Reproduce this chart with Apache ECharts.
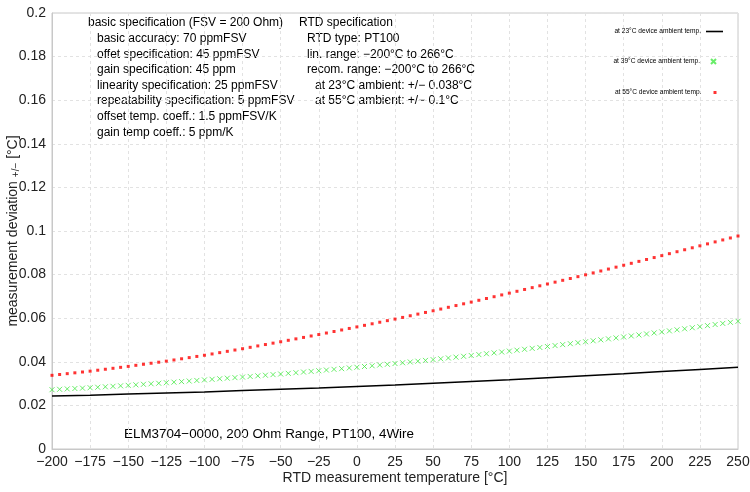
<!DOCTYPE html>
<html>
<head>
<meta charset="utf-8">
<script src="https://cdn.jsdelivr.net/npm/echarts@6/dist/echarts.min.js"></script>
<style>html,body{margin:0;padding:0;background:#fff}#c{width:750px;height:492px}</style>
</head>
<body>
<div id="c"></div>
<script>
const temps = [-200,-195,-190,-185,-180,-175,-170,-165,-160,-155,-150,-145,-140,-135,-130,-125,-120,-115,-110,-105,-100,-95,-90,-85,-80,-75,-70,-65,-60,-55,-50,-45,-40,-35,-30,-25,-20,-15,-10,-5,0,5,10,15,20,25,30,35,40,45,50,55,60,65,70,75,80,85,90,95,100,105,110,115,120,125,130,135,140,145,150,155,160,165,170,175,180,185,190,195,200,205,210,215,220,225,230,235,240,245,250];
const temps25 = [-200,-175,-150,-125,-100,-75,-50,-25,0,25,50,75,100,125,150,175,200,225,250];
const dev23 = [0.0243,0.0247,0.0252,0.0257,0.0262,0.0268,0.0274,0.0280,0.0287,0.0294,0.0302,0.0310,0.0318,0.0327,0.0336,0.0345,0.0355,0.0365,0.0375];
const dev39 = [0.0272,0.02738,0.02756,0.02774,0.02792,0.0281,
0.02832,0.02854,0.02876,0.02898,0.0292,
0.02944,0.02968,0.02992,0.03016,0.0304,
0.03066,0.03092,0.03118,0.03144,0.0317,
0.03196,0.03222,0.03248,0.03274,0.033,
0.03328,0.03356,0.03384,0.03412,0.0344,
0.0347,0.035,0.0353,0.0356,0.0359,
0.03622,0.03654,0.03686,0.03718,0.0375,
0.03784,0.03818,0.03852,0.03886,0.0392,
0.03956,0.03992,0.04028,0.04064,0.041,
0.04138,0.04176,0.04214,0.04252,0.0429,
0.0433,0.0437,0.0441,0.0445,0.0449,
0.04532,0.04574,0.04616,0.04658,0.047,
0.04744,0.04788,0.04832,0.04876,0.0492,
0.04964,0.05008,0.05052,0.05096,0.0514,
0.05186,0.05232,0.05278,0.05324,0.0537,
0.05418,0.05466,0.05514,0.05562,0.0561,
0.0566,0.0571,0.0576,0.0581,0.0586];
const dev55 = [0.0338,0.03418,0.03456,0.03494,0.03532,0.0357,
0.03614,0.03658,0.03702,0.03746,0.0379,
0.03838,0.03886,0.03934,0.03982,0.0403,
0.04084,0.04138,0.04192,0.04246,0.043,
0.0436,0.0442,0.0448,0.0454,0.046,
0.04664,0.04728,0.04792,0.04856,0.0492,
0.04986,0.05052,0.05118,0.05184,0.0525,
0.0532,0.0539,0.0546,0.0553,0.056,
0.05672,0.05744,0.05816,0.05888,0.0596,
0.06036,0.06112,0.06188,0.06264,0.0634,
0.0642,0.065,0.0658,0.0666,0.0674,
0.06822,0.06904,0.06986,0.07068,0.0715,
0.07234,0.07318,0.07402,0.07486,0.0757,
0.07654,0.07738,0.07822,0.07906,0.0799,
0.08078,0.08166,0.08254,0.08342,0.0843,
0.08518,0.08606,0.08694,0.08782,0.0887,
0.0896,0.0905,0.0914,0.0923,0.0932,
0.0941,0.095,0.0959,0.0968,0.0977];
const names = ['at 23°C device ambient temp.','at 39°C device ambient temp.','at 55°C device ambient temp.'];
const specLeft = ['basic specification (FSV = 200 Ohm)','  basic accuracy: 70 ppmFSV','  offet specification: 45 ppmFSV','  gain specification: 45 ppm','  linearity specification: 25 ppmFSV','  repeatability specification: 5 ppmFSV','  offset temp. coeff.: 1.5 ppmFSV/K','  gain temp coeff.: 5 ppm/K'];
const specRight = ['RTD specification','  RTD type: PT100','  lin. range: −200°C to 266°C','  recom. range: −200°C to 266°C','    at 23°C ambient: +/− 0.038°C','    at 55°C ambient: +/− 0.1°C'];
const footer = 'ELM3704−0000, 200 Ohm Range, PT100, 4Wire';

const FONT = 'Liberation Sans, Arial, Helvetica, sans-serif';
const chart = echarts.init(document.getElementById('c'));
const pair = (xs, ys) => xs.map((x, i) => [x, ys[i]]);
const lineH = 15.6;
const graphics = [];
specLeft.forEach((t, i) => {
  const ind = t.startsWith('  ') ? 9 : 0;
  graphics.push({type:'text', left: 88 + ind, top: 17 + i*lineH, style:{text:t.trim(), font:'12px ' + FONT, fill:'#000'}});
});
specRight.forEach((t, i) => {
  const ind = t.startsWith('    ') ? 16 : (t.startsWith('  ') ? 8 : 0);
  graphics.push({type:'text', left: 299 + ind, top: 17 + i*lineH, style:{text:t.trim(), font:'12px ' + FONT, fill:'#000'}});
});
graphics.push({type:'text', left: 124, top: 428, style:{text:footer, font:'13.4px ' + FONT, fill:'#000'}});

const legBase = {orient:'vertical', align:'right', itemGap:0, selectedMode:false,
  textStyle:{fontSize:6.6, fontFamily:FONT, color:'#000'}};
chart.setOption({
  animation:false,
  textStyle:{fontFamily:FONT},
  grid:{left:52, right:12, top:13, bottom:43, containLabel:false, outerBoundsMode:'none',
        show:true, borderColor:'#c8c8c8', borderWidth:1},
  graphic: graphics,
  legend:[
    Object.assign({}, legBase, {data:[{name:names[0], icon:'rect'}], right:22, top:23, itemWidth:17, itemHeight:1.6}),
    Object.assign({}, legBase, {data:[names[1]], right:28, top:53, itemWidth:5, itemHeight:5,
      textStyle:{fontSize:6.6, fontFamily:FONT, color:'#000', padding:[0,6,0,0]}}),
    Object.assign({}, legBase, {data:[{name:names[2], icon:'rect'}], right:28.5, top:84, itemWidth:3, itemHeight:3,
      textStyle:{fontSize:6.6, fontFamily:FONT, color:'#000', padding:[0,7,0,0]}})
  ],
  xAxis:{type:'value', min:-200, max:250, interval:25,
    name:'RTD measurement temperature [°C]', nameLocation:'middle', nameGap:22, nameMoveOverlap:false,
    nameTextStyle:{fontSize:14, color:'#222'},
    axisLine:{show:true, onZero:false, lineStyle:{color:'#c8c8c8'}}, axisTick:{show:false},
    axisLabel:{fontSize:14, color:'#222', margin:6, formatter:v => String(v).replace('-', '−')},
    splitLine:{show:true, lineStyle:{color:'#e2e2e2', type:[3,3], width:1}}},
  yAxis:{type:'value', min:0, max:0.2, interval:0.02,
    name:'measurement deviation {s|+/−} [°C]', nameLocation:'middle', nameGap:31, nameMoveOverlap:false,
    nameTextStyle:{fontSize:14, color:'#222', rich:{s:{fontSize:10, color:'#222', padding:[6,0,0,0]}}},
    axisLine:{show:true, onZero:false, lineStyle:{color:'#c8c8c8'}}, axisTick:{show:false},
    axisLabel:{fontSize:14, color:'#222', margin:6, formatter:v => String(+v.toFixed(2))},
    splitLine:{show:true, lineStyle:{color:'#e2e2e2', type:[3,3], width:1}}},
  series:[
    {name:names[0], type:'line', data:pair(temps25, dev23), showSymbol:false, symbol:'none',
     lineStyle:{color:'#000', width:1.5}, itemStyle:{color:'#000'}, z:3},
    {name:names[1], type:'scatter', data:pair(temps, dev39), symbol:'path://M0,0L10,10M10,0L0,10', symbolSize:5,
     itemStyle:{color:'rgba(0,0,0,0)', borderColor:'#44e844', borderWidth:1}, z:2},
    {name:names[2], type:'scatter', data:pair(temps, dev55), symbol:'rect', symbolSize:3,
     itemStyle:{color:'#ff0000'}, z:2}
  ]
});
</script>
</body>
</html>
